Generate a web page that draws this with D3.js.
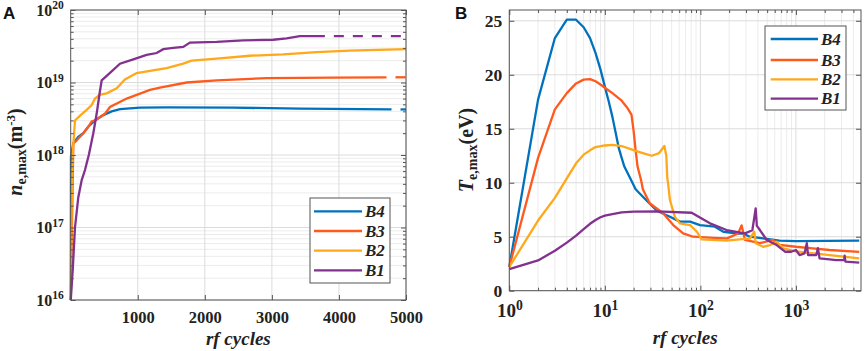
<!DOCTYPE html>
<html>
<head>
<meta charset="utf-8">
<script src="https://cdn.jsdelivr.net/npm/d3@7"></script>
<style>
  body { margin: 0; background: #fff; }
  svg text { font-weight: bold; fill: #222; }
</style>
</head>
<body>
<div id="chart"></div>
<script>
// ---- Panel A data: n_e,max vs rf cycles (linear x, log y) ----
const seriesNames = ["B4", "B3", "B2", "B1"];
const colors = ["#0072BD", "#FF5A1E", "#FFA81A", "#82318F"];

const cyclesA_B4 = [1, 4, 39, 113, 188, 262, 362, 486, 611, 735, 1033, 1431, 2424, 3417, 4784, 5000];
const neA_B4 = [1e16, 9.5e17, 1.45e18, 1.78e18, 2.0e18, 2.45e18, 3.0e18, 3.55e18, 4.0e18, 4.3e18, 4.5e18, 4.55e18, 4.5e18, 4.35e18, 4.25e18, 4.25e18];

const cyclesA_B3 = [1, 39, 64, 188, 262, 313, 362, 511, 586, 835, 1182, 1331, 1729, 2176, 2921, 3914, 4709, 5000];
const neA_B3 = [1e16, 1.45e18, 1.5e18, 2.0e18, 2.45e18, 2.9e18, 3.0e18, 3.7e18, 4.6e18, 6.0e18, 7.9e18, 8.5e18, 1.0e19, 1.07e19, 1.15e19, 1.17e19, 1.18e19, 1.18e19];

const cyclesA_B2 = [1, 15, 30, 64, 139, 238, 313, 362, 437, 536, 686, 809, 984, 1182, 1431, 1678, 1803, 2176, 2672, 3168, 3666, 4162, 5000];
const neA_B2 = [1e16, 2e17, 1.05e18, 3.0e18, 3.5e18, 4.2e18, 4.9e18, 6.0e18, 6.8e18, 7.1e18, 8.3e18, 1.1e19, 1.35e19, 1.45e19, 1.58e19, 1.82e19, 2.0e19, 2.14e19, 2.34e19, 2.45e19, 2.63e19, 2.75e19, 2.88e19];

const cyclesA_B1 = [1, 30, 64, 113, 164, 213, 270, 337, 387, 430, 462, 586, 735, 933, 1132, 1282, 1380, 1529, 1678, 1778, 2176, 2572, 3019, 3219, 3417, 3790, 5000];
const neA_B1 = [1e16, 2.6e16, 1.0e17, 2.6e17, 4.5e17, 6.2e17, 1.0e18, 2.0e18, 3.7e18, 7.0e18, 1.07e19, 1.36e19, 1.82e19, 2.09e19, 2.4e19, 2.55e19, 2.88e19, 3.0e19, 3.09e19, 3.55e19, 3.63e19, 3.8e19, 3.89e19, 4.07e19, 4.37e19, 4.37e19, 4.37e19];

// cycle after which each A curve continues as a dashed line (null = solid all the way)
const dashFromA = [4784, 4709, null, 3790];

const xTicksA = [1000, 2000, 3000, 4000, 5000];

// ---- Panel B data: T_e,max vs rf cycles (log x, linear y) ----
const cyclesB_B4 = [1, 2, 3, 4, 5, 6, 7, 8, 9, 10, 11, 12, 13, 14, 15, 16, 18, 21, 27, 35, 48, 61, 78, 99, 142, 174, 238, 282, 328, 452, 675, 1000, 4600];
const teB_B4 = [2.2, 17.7, 23.4, 25.1, 25.1, 24.4, 23.4, 22.0, 20.5, 18.9, 17.5, 16.1, 14.6, 13.2, 12.3, 11.5, 10.6, 9.4, 8.4, 7.4, 6.85, 6.4, 6.4, 6.08, 5.93, 5.46, 5.3, 5.3, 5.0, 4.85, 4.63, 4.6, 4.63];

const cyclesB_B3 = [1, 2, 3, 4, 5, 6, 7, 8, 9, 10, 12, 15, 17, 19, 20, 21, 22, 24, 25, 29.5, 41, 52, 66, 84, 136, 190, 248, 270, 293, 418, 575, 675, 1000, 1500, 2250, 4600];
const teB_B3 = [2.2, 12.3, 16.8, 18.3, 19.2, 19.55, 19.6, 19.4, 19.1, 18.8, 18.3, 17.6, 17.0, 16.3, 14.8, 13.0, 11.5, 10.2, 9.4, 8.1, 7.15, 6.08, 5.31, 5.0, 4.9, 4.85, 5.3, 6.05, 4.7, 4.4, 4.7, 4.25, 4.07, 3.92, 3.77, 3.6];

const cyclesB_B2 = [1, 2, 3, 4, 5, 6, 7, 8, 10, 12, 15, 21, 26, 31, 37, 42, 44, 45, 46, 48, 54, 61, 78, 92, 103, 188, 330, 367, 380, 453, 537, 629, 735, 1000, 2250, 4600];
const teB_B2 = [2.2, 6.5, 8.6, 10.4, 11.8, 12.6, 13.0, 13.3, 13.45, 13.5, 13.4, 12.95, 12.7, 12.5, 12.75, 13.4, 12.5, 10.5, 9.9, 8.4, 6.85, 6.24, 6.08, 5.46, 4.76, 4.63, 4.85, 5.46, 4.39, 4.07, 4.23, 4.54, 3.92, 3.65, 3.3, 3.0];

const cyclesB_B1 = [1, 2, 3, 4, 5, 6, 7, 8, 9, 10, 12, 15, 20, 35, 81, 126, 188, 293, 350, 379, 390, 420, 494, 629, 769, 893, 1000, 1092, 1230, 1300, 1340, 1633, 1700, 1767, 2250, 2630, 3200, 3236, 3300, 4600];
const teB_B1 = [2.0, 2.8, 3.7, 4.45, 5.1, 5.7, 6.2, 6.55, 6.8, 6.95, 7.1, 7.25, 7.33, 7.35, 7.22, 6.24, 5.62, 5.31, 5.6, 7.63, 6.0, 5.62, 4.7, 4.23, 3.61, 3.61, 3.77, 3.3, 3.46, 4.4, 3.3, 3.3, 3.95, 3.0, 2.9, 2.84, 2.84, 3.25, 2.69, 2.6];

const yTicksB = [0, 5, 10, 15, 20, 25];

const seriesA = [[cyclesA_B4, neA_B4], [cyclesA_B3, neA_B3], [cyclesA_B2, neA_B2], [cyclesA_B1, neA_B1]];
const seriesB = [[cyclesB_B4, teB_B4], [cyclesB_B3, teB_B3], [cyclesB_B2, teB_B2], [cyclesB_B1, teB_B1]];

const serif = "Liberation Serif";
const gridMajor = "#dcdcdc";
const gridMinor = "#ececec";
const axisColor = "#555";

const svg = d3.select("#chart").append("svg")
    .attr("width", 865)
    .attr("height", 351)
    .attr("font-family", serif);

drawPanelA();
drawPanelB();

// --- Panel A ---
function drawPanelA() {
    const x = d3.scaleLinear().domain([0, 5000]).range([70.7, 406]);
    const y = d3.scaleLog().domain([1e16, 1e20]).range([300, 10]);
    const g = svg.append("g");
    const [x0, x1] = x.range(), [y0, y1] = y.range();

    const yAll = y.ticks();
    const yMajor = yAll.filter(isPow10);
    const yMinor = yAll.filter(d => !isPow10(d));

    // grid
    g.selectAll(".hminor").data(yMinor).enter().append("line")
        .attr("x1", x0).attr("x2", x1).attr("y1", d => y(d)).attr("y2", d => y(d))
        .attr("stroke", gridMinor);
    g.selectAll(".hmajor").data(yMajor).enter().append("line")
        .attr("x1", x0).attr("x2", x1).attr("y1", d => y(d)).attr("y2", d => y(d))
        .attr("stroke", gridMajor);
    g.selectAll(".vmajor").data(xTicksA).enter().append("line")
        .attr("x1", d => x(d)).attr("x2", d => x(d)).attr("y1", y0).attr("y2", y1)
        .attr("stroke", gridMajor);

    // curves
    const line = d3.line().x(d => x(d[0])).y(d => y(d[1]));
    seriesA.forEach(([cx, cy], i) => {
        const pts = cx.map((c, k) => [c, cy[k]]);
        const cut = dashFromA[i];
        const solid = cut == null ? pts : pts.filter(p => p[0] <= cut);
        g.append("path").datum(solid).attr("d", line)
            .attr("fill", "none").attr("stroke", colors[i]).attr("stroke-width", 2.3);
        if (cut != null) {
            g.append("path").datum(pts.filter(p => p[0] >= cut)).attr("d", line)
                .attr("fill", "none").attr("stroke", colors[i]).attr("stroke-width", 2.3)
                .attr("stroke-dasharray", "10 9").attr("stroke-dashoffset", 10);
        }
    });

    // axes (ticks point inward)
    tickAxis(g, d3.axisLeft(y).tickValues(yMinor).tickSizeInner(-3), x0, 0);
    tickAxis(g, d3.axisRight(y).tickValues(yMinor).tickSizeInner(-3), x1, 0);
    tickAxis(g, d3.axisRight(y).tickValues(yMajor).tickSizeInner(-5), x1, 0);
    tickAxis(g, d3.axisTop(x).tickValues(xTicksA).tickSizeInner(-5), 0, y1);
    const left = tickAxis(g, d3.axisLeft(y).tickValues(yMajor).tickSizeInner(-5).tickPadding(7), x0, 0);
    left.selectAll(".tick text").each(function(d) { powLabel(d3.select(this), Math.round(Math.log10(d)), 16); });
    const bottom = tickAxis(g, d3.axisBottom(x).tickValues(xTicksA).tickSizeInner(-5).tickPadding(11), 0, y0);
    bottom.selectAll(".tick text").text(d => d).attr("font-size", 16.5);

    g.append("rect").attr("x", x0).attr("y", y1).attr("width", x1 - x0).attr("height", y0 - y1)
        .attr("fill", "none").attr("stroke", axisColor);

    // labels
    g.append("text").attr("x", (x0 + x1) / 2).attr("y", 345).attr("text-anchor", "middle")
        .attr("font-family", serif).attr("font-size", 19).attr("font-style", "italic").text("rf cycles");

    const yl = g.append("text").attr("transform", "translate(22,152) rotate(-90)")
        .attr("text-anchor", "middle").attr("font-family", serif).attr("font-size", 20);
    yl.append("tspan").attr("font-style", "italic").text("n");
    yl.append("tspan").attr("dy", 4).attr("font-size", 14).text("e,max");
    yl.append("tspan").attr("dy", -4).text("(m");
    yl.append("tspan").attr("dy", -7).attr("font-size", 13).text("-3");
    yl.append("tspan").attr("dy", 7).text(")");

    g.append("text").attr("x", 3).attr("y", 19)
        .attr("font-family", "Liberation Sans").attr("font-size", 17).style("fill", "#111")
        .text("A");

    drawLegend(g, 310, 198, 80, 85, [211.3, 231, 250.7, 270.3], 314, 362);
}

// --- Panel B ---
function drawPanelB() {
    const x = d3.scaleLog().domain([1, 4800]).range([509.3, 861]);
    const y = d3.scaleLinear().domain([0, 26]).range([290.7, 10]);
    const g = svg.append("g");
    const [x0, x1] = x.range(), [y0, y1] = y.range();

    const xAll = x.ticks();
    const xMajor = xAll.filter(isPow10);
    const xMinor = xAll.filter(d => !isPow10(d));

    g.selectAll(".vminor").data(xMinor).enter().append("line")
        .attr("x1", d => x(d)).attr("x2", d => x(d)).attr("y1", y0).attr("y2", y1)
        .attr("stroke", gridMinor);
    g.selectAll(".vmajor").data(xMajor).enter().append("line")
        .attr("x1", d => x(d)).attr("x2", d => x(d)).attr("y1", y0).attr("y2", y1)
        .attr("stroke", gridMajor);
    g.selectAll(".hmajor").data(yTicksB).enter().append("line")
        .attr("x1", x0).attr("x2", x1).attr("y1", d => y(d)).attr("y2", d => y(d))
        .attr("stroke", gridMajor);

    const line = d3.line().x(d => x(d[0])).y(d => y(d[1]));
    seriesB.forEach(([cx, cy], i) => {
        g.append("path").datum(cx.map((c, k) => [c, cy[k]])).attr("d", line)
            .attr("fill", "none").attr("stroke", colors[i]).attr("stroke-width", 2.3)
            .attr("stroke-linejoin", "round");
    });

    tickAxis(g, d3.axisBottom(x).tickValues(xMinor).tickSizeInner(-3), 0, y0);
    tickAxis(g, d3.axisTop(x).tickValues(xMinor).tickSizeInner(-3), 0, y1);
    tickAxis(g, d3.axisTop(x).tickValues(xMajor).tickSizeInner(-5), 0, y1);
    tickAxis(g, d3.axisRight(y).tickValues(yTicksB).tickSizeInner(-5), x1, 0);
    const left = tickAxis(g, d3.axisLeft(y).tickValues(yTicksB).tickSizeInner(-5).tickPadding(7), x0, 0);
    left.selectAll(".tick text").text(d => d).attr("font-size", 17.5);
    const bottom = tickAxis(g, d3.axisBottom(x).tickValues(xMajor).tickSizeInner(-5).tickPadding(13), 0, y0);
    bottom.selectAll(".tick text").each(function(d) { powLabel(d3.select(this), Math.round(Math.log10(d)), 19); });

    g.append("rect").attr("x", x0).attr("y", y1).attr("width", x1 - x0).attr("height", y0 - y1)
        .attr("fill", "none").attr("stroke", axisColor);

    g.append("text").attr("x", (x0 + x1) / 2).attr("y", 344).attr("text-anchor", "middle")
        .attr("font-family", serif).attr("font-size", 19).attr("font-style", "italic").text("rf cycles");

    const yl = g.append("text").attr("transform", "translate(473,150) rotate(-90)")
        .attr("text-anchor", "middle").attr("font-family", serif).attr("font-size", 20);
    yl.append("tspan").attr("font-style", "italic").text("T");
    yl.append("tspan").attr("dy", 4).attr("font-size", 14).text("e,max");
    yl.append("tspan").attr("dy", -4).text("(eV)");

    g.append("text").attr("x", 455).attr("y", 18.5)
        .attr("font-family", "Liberation Sans").attr("font-size", 17).style("fill", "#111")
        .text("B");

    drawLegend(g, 765, 26, 81, 84, [39, 60, 79.3, 98.7], 770.7, 818);
}

// Helpers
function isPow10(d) {
    const l = Math.log10(d);
    return Math.abs(l - Math.round(l)) < 1e-9;
}

function tickAxis(g, axis, tx, ty) {
    const a = g.append("g").attr("transform", `translate(${tx},${ty})`)
        .call(axis.tickSizeOuter(0).tickFormat(() => ""));
    a.attr("font-family", serif).attr("font-size", null);
    a.select(".domain").remove();
    a.selectAll(".tick line").attr("stroke", axisColor);
    a.selectAll(".tick text").attr("fill", "#222").attr("font-family", serif);
    return a;
}

function powLabel(t, exp, size) {
    t.text(null).attr("font-size", size);
    t.append("tspan").text("10");
    t.append("tspan").attr("dy", -size * 0.4).attr("font-size", size * 0.72).text(exp);
}

function drawLegend(g, bx, by, bw, bh, rows, lx0, lx1) {
    const lg = g.append("g");
    lg.append("rect").attr("x", bx).attr("y", by).attr("width", bw).attr("height", bh)
        .attr("fill", "#fff").attr("stroke", axisColor);
    seriesNames.forEach((name, i) => {
        lg.append("line").attr("x1", lx0).attr("x2", lx1).attr("y1", rows[i]).attr("y2", rows[i])
            .attr("stroke", colors[i]).attr("stroke-width", 2.3);
        lg.append("text").attr("x", lx1 + 3).attr("y", rows[i] + 5.5)
            .attr("font-family", serif).attr("font-size", 17).attr("font-style", "italic").text(name);
    });
}
</script>
</body>
</html>
